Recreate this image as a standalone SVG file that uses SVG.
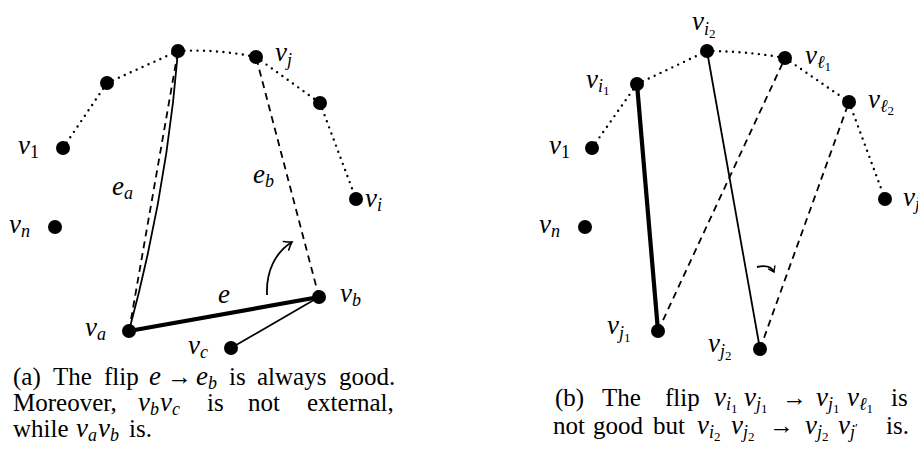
<svg xmlns="http://www.w3.org/2000/svg" width="918" height="465" viewBox="0 0 918 465">
<defs>
<marker id="ah" markerUnits="userSpaceOnUse" markerWidth="14" markerHeight="14" refX="0" refY="0" viewBox="-8 -7 10 14" orient="auto">
<path d="M-7,-5 Q-2,-1 0,0 Q-2,1 -7,5" fill="none" stroke="#000" stroke-width="1.6" stroke-linecap="round"/>
</marker>
<marker id="ahs" markerUnits="userSpaceOnUse" markerWidth="10" markerHeight="10" refX="0" refY="0" viewBox="-6 -5 8 10" orient="auto">
<path d="M-5,-3.5 Q-1.5,-0.8 0,0 Q-1.5,0.8 -5,3.5" fill="none" stroke="#000" stroke-width="1.4" stroke-linecap="round"/>
</marker>
<style>
.n{fill:#000}
.dot{fill:none;stroke:#000;stroke-width:2.4;stroke-linecap:round;stroke-dasharray:0 6.5}
.dash{fill:none;stroke:#000;stroke-width:1.8;stroke-dasharray:7 5}
.thin{fill:none;stroke:#000;stroke-width:1.8}
.thick{fill:none;stroke:#000;stroke-width:4.2}
.m{font-family:"Liberation Serif","DejaVu Serif",serif;font-style:italic;font-size:27px;fill:#000}
.cap{font-family:"Liberation Serif","DejaVu Serif",serif;font-size:25px;fill:#000}
.i{font-style:italic;font-size:27px}
.s{font-size:18px}
.u{font-style:normal}
.cs{font-size:18px;font-style:italic}
.cu{font-size:13px;font-style:normal}
.ss{font-size:13px;font-style:normal}
</style>
</defs>

<!-- Panel (a) connectors -->
<g id="connectors-a">
<path class="dot" d="M63,148 L107,83"/>
<path class="dot" d="M107,83 L178,51"/>
<path class="dot" d="M178,51 Q217,49 256,57"/>
<path class="dot" d="M256,57 L320,103"/>
<path class="dot" d="M320,103 L356,199"/>
<path class="dash" d="M129,331 L178,51"/>
<path class="thin" d="M129,331 Q167,190 178,51"/>
<path class="dash" d="M319,297 L256,57"/>
<path class="thick" d="M129,331 L319,297"/>
<path class="thin" d="M319,297 L231,348"/>
<path class="thin" d="M267,295 C266,270 276,252 292,242" marker-end="url(#ah)"/>
</g>

<!-- Panel (a) nodes -->
<g id="a-top"><circle class="n" cx="178" cy="51" r="7"/></g>
<g id="a-vj"><circle class="n" cx="256" cy="57" r="7"/><text class="m" x="275" y="61">v<tspan class="s" dy="5">j</tspan></text></g>
<g id="a-p1"><circle class="n" cx="107" cy="83" r="7"/></g>
<g id="a-v1"><circle class="n" cx="63" cy="148" r="7"/><text class="m" x="18" y="154">v<tspan class="s u" dy="4">1</tspan></text></g>
<g id="a-p2"><circle class="n" cx="320" cy="103" r="7"/></g>
<g id="a-vi"><circle class="n" cx="356" cy="199" r="7"/><text class="m" x="365" y="207">v<tspan class="s" dy="4">i</tspan></text></g>
<g id="a-vn"><circle class="n" cx="55" cy="227" r="7"/><text class="m" x="9" y="233">v<tspan class="s" dy="4">n</tspan></text></g>
<g id="a-vb"><circle class="n" cx="319" cy="297" r="7"/><text class="m" x="340" y="302">v<tspan class="s" dy="4">b</tspan></text></g>
<g id="a-va"><circle class="n" cx="129" cy="331" r="7"/><text class="m" x="85" y="336">v<tspan class="s" dy="4">a</tspan></text></g>
<g id="a-vc"><circle class="n" cx="231" cy="348" r="7"/><text class="m" x="188" y="354">v<tspan class="s" dy="4">c</tspan></text></g>
<g id="a-labels">
<text class="m" x="112" y="195">e<tspan class="s" dy="4">a</tspan></text>
<text class="m" x="253" y="183">e<tspan class="s" dy="4">b</tspan></text>
<text class="m" x="218" y="303">e</text>
</g>

<!-- Panel (b) connectors -->
<g id="connectors-b">
<path class="dot" d="M592,148 L637,84"/>
<path class="dot" d="M637,84 L707,51"/>
<path class="dot" d="M707,51 Q746,51 785,58"/>
<path class="dot" d="M785,58 L849,102"/>
<path class="dot" d="M849,102 L885,199"/>
<path class="thick" d="M637,84 L658,331"/>
<path class="thin" d="M707,51 L760,349"/>
<path class="dash" d="M658,331 L785,58"/>
<path class="dash" d="M760,349 L849,102"/>
<path class="thin" d="M757,267 Q770,264 774,272" marker-end="url(#ahs)"/>
</g>

<!-- Panel (b) nodes -->
<g id="b-vi2"><circle class="n" cx="707" cy="51" r="7"/><text class="m" x="692" y="30">v<tspan class="s" dy="5">i</tspan><tspan class="ss" dy="3">2</tspan></text></g>
<g id="b-vl1"><circle class="n" cx="785" cy="58" r="7"/><text class="m" x="805" y="64">v<tspan class="s" dy="4">ℓ</tspan><tspan class="ss" dy="3">1</tspan></text></g>
<g id="b-vi1"><circle class="n" cx="637" cy="84" r="7"/><text class="m" x="586" y="88">v<tspan class="s" dy="4">i</tspan><tspan class="ss" dy="3">1</tspan></text></g>
<g id="b-vl2"><circle class="n" cx="849" cy="102" r="7"/><text class="m" x="868" y="108">v<tspan class="s" dy="4">ℓ</tspan><tspan class="ss" dy="3">2</tspan></text></g>
<g id="b-v1"><circle class="n" cx="592" cy="148" r="7"/><text class="m" x="549" y="154">v<tspan class="s u" dy="4">1</tspan></text></g>
<g id="b-vr"><circle class="n" cx="885" cy="199" r="7"/><text class="m" x="903" y="206">v<tspan class="s" dy="4">j</tspan></text></g>
<g id="b-vn"><circle class="n" cx="585" cy="227" r="7"/><text class="m" x="539" y="233">v<tspan class="s" dy="4">n</tspan></text></g>
<g id="b-vj1"><circle class="n" cx="658" cy="331" r="7"/><text class="m" x="607" y="334">v<tspan class="s" dy="5">j</tspan><tspan class="ss" dy="3">1</tspan></text></g>
<g id="b-vj2"><circle class="n" cx="760" cy="349" r="7"/><text class="m" x="708" y="352">v<tspan class="s" dy="5">j</tspan><tspan class="ss" dy="3">2</tspan></text></g>

<!-- Captions -->
<g id="caption-a">
<text class="cap" y="385"><tspan x="13">(a)</tspan><tspan x="53">The</tspan><tspan x="104">flip</tspan><tspan x="149" class="i">e</tspan><tspan x="167">→</tspan><tspan x="196" class="i">e</tspan><tspan class="cs" dy="4">b</tspan><tspan x="229" dy="-4">is</tspan><tspan x="257">always</tspan><tspan x="339">good.</tspan></text>
<text class="cap" y="411"><tspan x="13">Moreover,</tspan><tspan x="138" class="i">v</tspan><tspan class="cs" dy="4">b</tspan><tspan x="160" class="i" dy="-4">v</tspan><tspan class="cs" dy="4">c</tspan><tspan x="207" dy="-4">is</tspan><tspan x="248">not</tspan><tspan x="307">external,</tspan></text>
<text class="cap" y="437"><tspan x="13">while</tspan><tspan x="76" class="i">v</tspan><tspan class="cs" dy="4">a</tspan><tspan x="98" class="i" dy="-4">v</tspan><tspan class="cs" dy="4">b</tspan><tspan x="129" dy="-4">is.</tspan></text>
</g>
<g id="caption-b">
<text class="cap" y="406"><tspan x="555">(b)</tspan><tspan x="602">The</tspan><tspan x="665">flip</tspan><tspan x="714" class="i">v</tspan><tspan class="cs" dy="4">i</tspan><tspan class="cu" dy="3">1</tspan><tspan x="744" class="i" dy="-7">v</tspan><tspan class="cs" dy="4">j</tspan><tspan class="cu" dy="3">1</tspan><tspan x="782" dy="-7">→</tspan><tspan x="816" class="i">v</tspan><tspan class="cs" dy="4">j</tspan><tspan class="cu" dy="3">1</tspan><tspan x="847" class="i" dy="-7">v</tspan><tspan class="cs" dy="4">ℓ</tspan><tspan class="cu" dy="3">1</tspan><tspan x="891" dy="-7">is</tspan></text>
<text class="cap" y="434"><tspan x="553">not</tspan><tspan x="593">good</tspan><tspan x="653">but</tspan><tspan x="697" class="i">v</tspan><tspan class="cs" dy="4">i</tspan><tspan class="cu" dy="3">2</tspan><tspan x="731" class="i" dy="-7">v</tspan><tspan class="cs" dy="4">j</tspan><tspan class="cu" dy="3">2</tspan><tspan x="769" dy="-7">→</tspan><tspan x="805" class="i">v</tspan><tspan class="cs" dy="4">j</tspan><tspan class="cu" dy="3">2</tspan><tspan x="838" class="i" dy="-7">v</tspan><tspan class="cs" dy="4">j</tspan><tspan class="cu" dy="-6">′</tspan><tspan x="886" dy="2">is.</tspan></text>
</g>
</svg>
